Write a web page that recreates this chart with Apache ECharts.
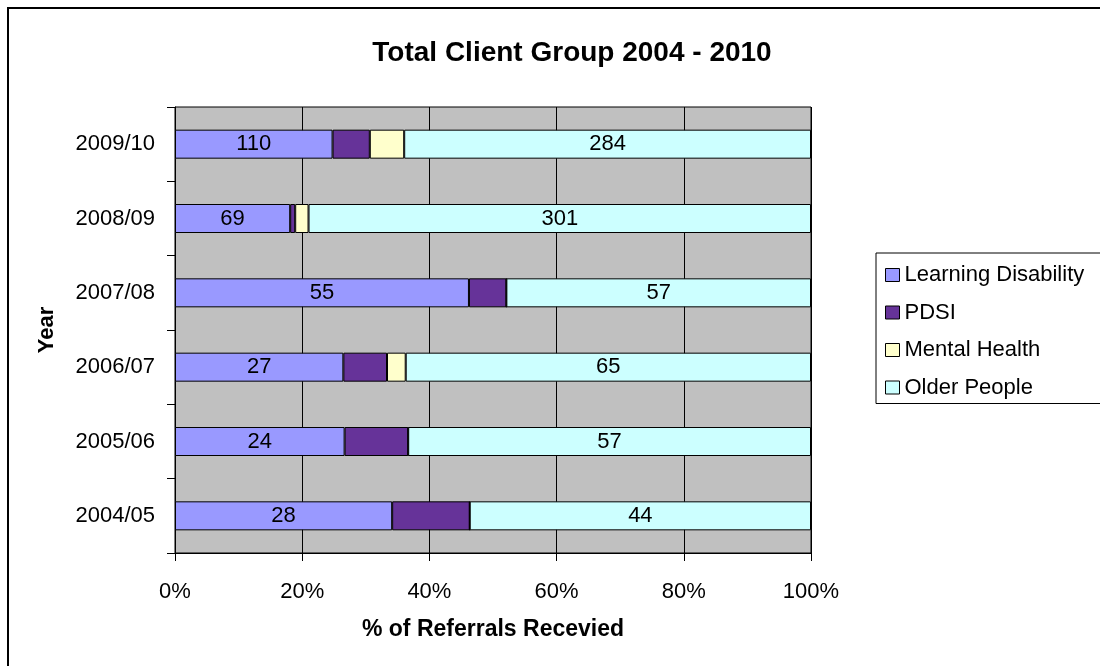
<!DOCTYPE html>
<html>
<head>
<meta charset="utf-8">
<script src="https://cdn.jsdelivr.net/npm/echarts@6/dist/echarts.min.js"></script>
<style>
html,body{margin:0;padding:0;background:#fff;}
#chart{width:1100px;height:666px;}
</style>
</head>
<body>
<div id="chart"></div>
<script>
var years = ['2004/05', '2005/06', '2006/07', '2007/08', '2008/09', '2009/10'];
var learningDisability = [28, 24, 27, 55, 69, 110];
var pdsi = [10, 9, 7, 7, 3, 26];
var mentalHealth = [0, 0, 3, 0, 8, 24];
var olderPeople = [44, 57, 65, 57, 301, 284];
var xTicks = [0, 20, 40, 60, 80, 100];

var seriesNames = ['Learning Disability', 'PDSI', 'Mental Health', 'Older People'];
var seriesColors = ['#9999FF', '#663399', '#FFFFCC', '#CCFFFF'];
var raw = [learningDisability, pdsi, mentalHealth, olderPeople];
var showLabel = [true, false, false, true];

var totals = years.map(function (_, i) {
  return raw.reduce(function (s, arr) { return s + arr[i]; }, 0);
});

var FONT = 'Liberation Sans, Arial, sans-serif';

var series = raw.map(function (arr, k) {
  return {
    name: seriesNames[k],
    type: 'bar',
    stack: 'total',
    barWidth: 29,
    itemStyle: { color: seriesColors[k], borderColor: '#000', borderWidth: 1 },
    label: {
      show: showLabel[k],
      position: 'inside',
      color: '#000',
      fontFamily: FONT,
      fontSize: 22,
      formatter: function (p) { return arr[p.dataIndex]; }
    },
    emphasis: { disabled: true },
    data: arr.map(function (v, i) { return v / totals[i] * 100; })
  };
});

var chart = echarts.init(document.getElementById('chart'));
chart.setOption({
  animation: false,
  backgroundColor: '#fff',
  textStyle: { fontFamily: FONT },
  graphic: [{
    type: 'rect',
    shape: { x: 8, y: 8, width: 1200, height: 800 },
    style: { fill: 'none', stroke: '#000', lineWidth: 2 },
    z: 100
  }],
  title: {
    text: 'Total Client Group 2004 - 2010',
    left: 567,
    textAlign: 'center',
    top: 34,
    textStyle: { fontFamily: FONT, fontSize: 28, fontWeight: 'bold', color: '#000' }
  },
  legend: {
    orient: 'vertical',
    left: 876,
    top: 253,
    padding: [11, 30, 5, 9],
    itemWidth: 14,
    itemHeight: 13,
    itemGap: 15.5,
    icon: 'rect',
    borderColor: '#000',
    borderWidth: 1,
    itemStyle: { borderColor: '#000', borderWidth: 1 },
    textStyle: { fontFamily: FONT, fontSize: 22, lineHeight: 22, color: '#000' },
    data: seriesNames
  },
  grid: {
    left: 175, top: 107, right: 289, bottom: 113,
    show: true,
    backgroundColor: '#C0C0C0',
    borderColor: '#000',
    borderWidth: 1
  },
  xAxis: {
    type: 'value',
    min: 0, max: 100, interval: 20,
    name: '% of Referrals Recevied',
    nameLocation: 'middle',
    nameGap: 65,
    nameTextStyle: { fontFamily: FONT, fontSize: 23, fontWeight: 'bold', color: '#000' },
    axisLine: { show: true, lineStyle: { color: '#000', width: 1 } },
    axisTick: { show: true, length: 8, lineStyle: { color: '#000' } },
    axisLabel: {
      margin: 28, fontFamily: FONT, fontSize: 22, color: '#000',
      formatter: function (v) { return xTicks.indexOf(v) >= 0 ? v + '%' : ''; }
    },
    splitLine: { show: true, lineStyle: { color: '#000', width: 1 } }
  },
  yAxis: {
    type: 'category',
    data: years,
    name: 'Year',
    nameLocation: 'middle',
    nameGap: 117,
    nameRotate: 90,
    nameTextStyle: { fontFamily: FONT, fontSize: 22, fontWeight: 'bold', color: '#000' },
    axisLine: { show: true, lineStyle: { color: '#000', width: 1 } },
    axisTick: { show: true, length: 8, lineStyle: { color: '#000' } },
    axisLabel: { margin: 20, fontFamily: FONT, fontSize: 22, color: '#000' },
    splitLine: { show: false }
  },
  series: series
});
</script>
</body>
</html>
